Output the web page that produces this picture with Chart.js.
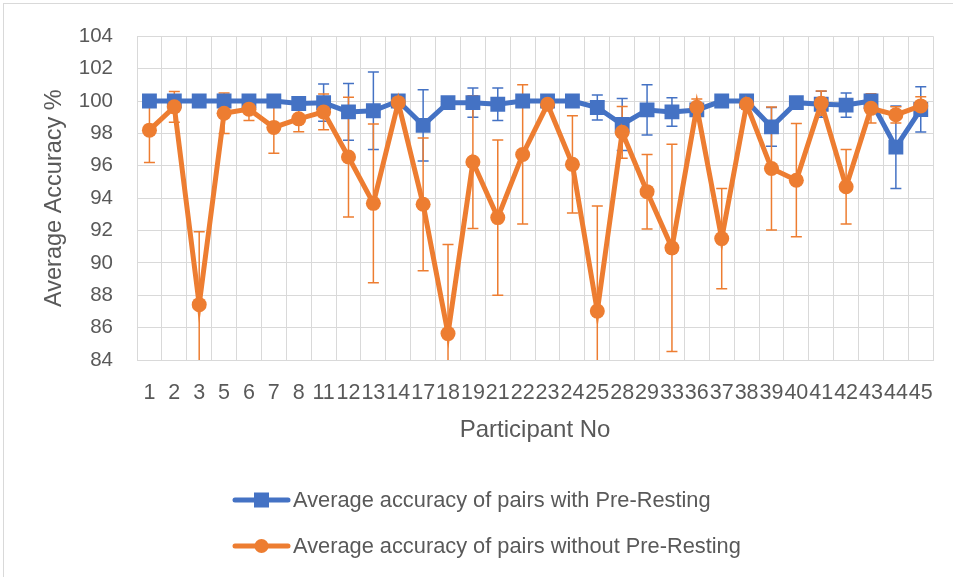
<!DOCTYPE html>
<html>
<head>
<meta charset="utf-8">
<script src="https://cdn.jsdelivr.net/npm/chart.js@4.4.1/dist/chart.umd.min.js"></script>
<style>
  html, body { margin: 0; padding: 0; background: #fff; }
  #wrap { width: 953px; height: 577px; }
</style>
</head>
<body>
<div id="wrap"><canvas id="myChart"></canvas></div>
<script>
// participants shown on the x axis
var participants = ['1','2','3','5','6','7','8','11','12','13','14','17','18','19','21','22',
  '23','24','25','28','29','33','36','37','38','39','40','41','42','43','44','45'];

// average accuracy with pre-resting (blue) and its error bars
var withResting = [100, 100, 100, 100, 100, 100, 99.85, 99.9, 99.33, 99.4, 100, 98.5, 99.9, 99.9, 99.8, 100,
  100, 100, 99.6, 98.55, 99.45, 99.33, 99.45, 100, 100, 98.4, 99.9, 99.8, 99.75, 100, 97.15, 99.48];
var withRestingErr = [0, 0, 0, 0, 0, 0, 0.2, 1.15, 1.75, 2.4, 0, 2.2, 0.2, 0.9, 1.0, 0,
  0, 0, 0.77, 1.6, 1.55, 0.88, 0.3, 0, 0, 1.2, 0.2, 0.8, 0.75, 0, 2.55, 1.4];

// average accuracy without pre-resting (orange) and its error bars
var withoutResting = [98.2, 99.64, 87.42, 99.25, 99.5, 98.37, 98.9, 99.33, 96.54, 93.68, 99.9, 93.62, 85.63, 96.23, 92.8, 96.7,
  99.8, 96.09, 87.02, 98.07, 94.4, 90.93, 99.62, 91.5, 99.8, 95.83, 95.11, 99.87, 94.7, 99.55, 99.15, 99.7];
var withoutRestingErr = [2.0, 0.95, 4.5, 1.25, 0.7, 1.6, 0.8, 1.1, 3.7, 4.9, 0.2, 4.1, 5.5, 4.1, 4.8, 4.3,
  0.2, 3.0, 6.5, 1.6, 2.3, 6.4, 0.5, 3.1, 0.3, 3.8, 3.5, 0.75, 2.3, 0.9, 0.5, 0.57];

var yMin = 84, yMax = 104, yStep = 2;

var FONT = "'Liberation Sans', Arial, sans-serif";
var TEXT = '#595959';
var GRID = '#D9D9D9';
var BLUE = '#4472C4';
var ORANGE = '#ED7D31';

// white background + light outer frame like the office chart area
var framePlugin = {
  id: 'frame',
  beforeDraw: function(chart) {
    var ctx = chart.ctx;
    ctx.save();
    ctx.fillStyle = '#fff';
    ctx.fillRect(0, 0, chart.width, chart.height);
    ctx.strokeStyle = GRID;
    ctx.lineWidth = 1;
    ctx.strokeRect(3.5, 3.5, chart.width + 20, chart.height + 20);
    ctx.restore();
  }
};

// vertical error bars, drawn under the lines
var errorBarPlugin = {
  id: 'errorBars',
  beforeDatasetsDraw: function(chart) {
    var ctx = chart.ctx, yScale = chart.scales.y, area = chart.chartArea;
    ctx.save();
    ctx.beginPath();
    ctx.rect(area.left, area.top, area.right - area.left, area.bottom - area.top);
    ctx.clip();
    chart.data.datasets.forEach(function(ds, d) {
      var meta = chart.getDatasetMeta(d);
      ctx.strokeStyle = ds.borderColor;
      ctx.lineWidth = 1.5;
      ds.errors.forEach(function(err, i) {
        if (!err) return;
        var x = meta.data[i].x;
        var top = yScale.getPixelForValue(ds.data[i] + err);
        var bot = yScale.getPixelForValue(ds.data[i] - err);
        ctx.beginPath();
        ctx.moveTo(x, top); ctx.lineTo(x, bot);
        ctx.moveTo(x - 5.5, top); ctx.lineTo(x + 5.5, top);
        ctx.moveTo(x - 5.5, bot); ctx.lineTo(x + 5.5, bot);
        ctx.stroke();
      });
    });
    ctx.restore();
  }
};

// stacked legend below the axis title
var stackedLegend = {
  id: 'stackedLegend',
  afterDraw: function(chart) {
    var ctx = chart.ctx;
    var x0 = 233, x1 = 290, rowY = 500, rowGap = 46;
    ctx.save();
    chart.data.datasets.forEach(function(ds, i) {
      var y = rowY + i * rowGap;
      var mid = (x0 + x1) / 2;
      ctx.strokeStyle = ds.borderColor;
      ctx.fillStyle = ds.borderColor;
      ctx.lineWidth = 5;
      ctx.lineCap = 'round';
      ctx.beginPath();
      ctx.moveTo(x0 + 2, y); ctx.lineTo(x1 - 2, y);
      ctx.stroke();
      if (ds.pointStyle === 'rect') {
        ctx.fillRect(mid - 7.5, y - 7.5, 15, 15);
      } else {
        ctx.beginPath();
        ctx.arc(mid, y, 7, 0, Math.PI * 2);
        ctx.fill();
      }
      ctx.fillStyle = TEXT;
      ctx.font = '21.8px ' + FONT;
      ctx.textBaseline = 'middle';
      ctx.textAlign = 'left';
      ctx.fillText(ds.label, x1 + 3, y + 1);
    });
    ctx.restore();
  }
};

var ctx = document.getElementById('myChart').getContext('2d');
var chart = new Chart(ctx, {
  type: 'line',
  data: {
    labels: participants,
    datasets: [{
      label: 'Average accuracy of pairs with Pre-Resting',
      data: withResting,
      errors: withRestingErr,
      borderColor: BLUE,
      backgroundColor: BLUE,
      borderWidth: 5,
      pointStyle: 'rect',
      pointRadius: 10.5,
      pointBorderWidth: 0,
      pointBackgroundColor: BLUE,
      tension: 0,
      order: 1
    }, {
      label: 'Average accuracy of pairs without Pre-Resting',
      data: withoutResting,
      errors: withoutRestingErr,
      borderColor: ORANGE,
      backgroundColor: ORANGE,
      borderWidth: 5,
      pointStyle: 'circle',
      pointRadius: 7.5,
      pointBorderWidth: 0,
      pointBackgroundColor: ORANGE,
      tension: 0,
      order: 0
    }]
  },
  options: {
    responsive: true,
    maintainAspectRatio: false,
    animation: false,
    layout: { padding: { top: 33, right: 18, bottom: 132, left: 0 } },
    plugins: {
      legend: { display: false },
      tooltip: { enabled: false }
    },
    scales: {
      x: {
        offset: true,
        grid: { offset: true, color: GRID, lineWidth: 1, drawTicks: false },
        border: { color: GRID },
        ticks: {
          autoSkip: false, maxRotation: 0, minRotation: 0, padding: 20,
          color: TEXT, font: { family: FONT, size: 21.5 }
        },
        title: {
          display: true, text: 'Participant No', color: TEXT,
          font: { family: FONT, size: 24 }, padding: { top: 0, bottom: 0 }
        },
        afterFit: function(axis) { axis.height = 85; }
      },
      y: {
        min: yMin, max: yMax,
        grid: { color: GRID, lineWidth: 1, drawTicks: false },
        border: { color: GRID },
        ticks: {
          stepSize: yStep, padding: 24,
          color: TEXT, font: { family: FONT, size: 20.5 }
        },
        title: {
          display: true, text: 'Average Accuracy %', color: TEXT,
          font: { family: FONT, size: 23.5 }, padding: { top: 40, bottom: 0 }
        },
        afterFit: function(axis) { axis.width = 137; }
      }
    }
  },
  plugins: [framePlugin, errorBarPlugin, stackedLegend]
});
</script>
</body>
</html>
